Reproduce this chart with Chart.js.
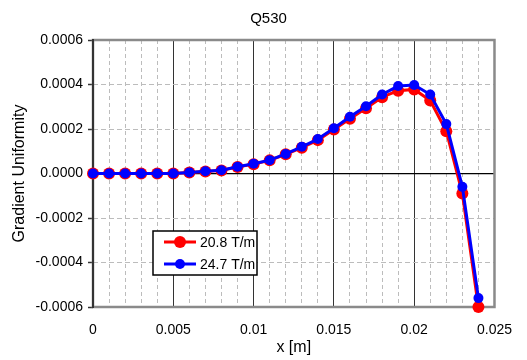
<!DOCTYPE html>
<html>
<head>
<meta charset="utf-8">
<script src="https://cdn.jsdelivr.net/npm/chart.js@4"></script>
<style>
  html, body { margin: 0; padding: 0; background: #fff; }
  #wrap { width: 527px; height: 360px; }
</style>
</head>
<body>
<div id="wrap"><canvas id="gradChart"></canvas></div>
<script>
// position along the magnet [m]
const xPos = [0, 0.001, 0.002, 0.003, 0.004, 0.005, 0.006, 0.007, 0.008, 0.009,
  0.010, 0.011, 0.012, 0.013, 0.014, 0.015, 0.016, 0.017, 0.018, 0.019,
  0.020, 0.021, 0.022, 0.023, 0.024];

// gradient uniformity, 20.8 T/m
const grad208 = [0, 0, 0, 0, 0, 0, 0.000004, 0.000009, 0.000014, 0.000029,
  0.000042, 0.000059, 0.000086, 0.000116, 0.00015, 0.000198, 0.000246, 0.000293, 0.000343, 0.000372,
  0.000378, 0.000328, 0.00019, -0.00009, -0.0006];

// gradient uniformity, 24.7 T/m
const grad247 = [0, 0, 0, 0, 0, 0, 0.000005, 0.00001, 0.000015, 0.00003,
  0.000044, 0.00006, 0.000088, 0.00012, 0.000155, 0.000203, 0.000255, 0.000302, 0.000355, 0.000393,
  0.000398, 0.000355, 0.000222, -0.00006, -0.00056];

const seriesLabels = ['20.8 T/m', '24.7 T/m'];
const seriesColors = ['#ff0000', '#0000ff'];

Chart.defaults.font.family = '"Liberation Sans", Arial, sans-serif';
Chart.defaults.color = '#000';

const isMajorX = v => Math.abs(v / 0.005 - Math.round(v / 0.005)) < 1e-6;

// plot frame: gray box, dark left axis
const framePlugin = {
  id: 'frame',
  beforeDatasetsDraw(chart) {
    const { ctx, chartArea: a } = chart;
    ctx.save();
    ctx.strokeStyle = '#8a8a8a';
    ctx.lineWidth = 2.5;
    ctx.strokeRect(a.left, a.top, a.right - a.left, a.bottom - a.top);
    ctx.strokeStyle = '#333';
    ctx.lineWidth = 2;
    ctx.beginPath();
    ctx.moveTo(a.left, a.top - 1);
    ctx.lineTo(a.left, a.bottom + 1);
    ctx.stroke();
    ctx.restore();
  }
};

// boxed legend inside the plot area
const boxLegend = {
  id: 'boxLegend',
  afterDraw(chart) {
    const { ctx } = chart;
    const bx = 153, by = 231, bw = 104, bh = 44;
    ctx.save();
    ctx.fillStyle = '#fff';
    ctx.fillRect(bx, by, bw, bh);
    ctx.strokeStyle = '#000';
    ctx.lineWidth = 1.5;
    ctx.strokeRect(bx, by, bw, bh);
    chart.data.datasets.forEach((ds, i) => {
      const ry = by + 11 + i * 22;
      ctx.strokeStyle = ds.borderColor;
      ctx.lineWidth = 3;
      ctx.beginPath();
      ctx.moveTo(bx + 11, ry);
      ctx.lineTo(bx + 43, ry);
      ctx.stroke();
      ctx.fillStyle = ds.backgroundColor;
      ctx.beginPath();
      ctx.arc(bx + 27, ry, ds.pointRadius, 0, Math.PI * 2);
      ctx.fill();
      ctx.fillStyle = '#000';
      ctx.font = '14px "Liberation Sans", Arial, sans-serif';
      ctx.textBaseline = 'middle';
      ctx.fillText(ds.label, bx + 47, ry + 1);
    });
    ctx.restore();
  }
};

new Chart(document.getElementById('gradChart'), {
  type: 'scatter',
  data: {
    datasets: [{
      label: seriesLabels[0],
      data: xPos.map((x, i) => ({ x: x, y: grad208[i] })),
      showLine: true,
      borderColor: seriesColors[0],
      backgroundColor: seriesColors[0],
      borderWidth: 3,
      pointRadius: 6,
      pointBorderWidth: 0,
      clip: false,
      order: 1
    }, {
      label: seriesLabels[1],
      data: xPos.map((x, i) => ({ x: x, y: grad247[i] })),
      showLine: true,
      borderColor: seriesColors[1],
      backgroundColor: seriesColors[1],
      borderWidth: 3,
      pointRadius: 5,
      pointBorderWidth: 0,
      clip: false,
      order: 0
    }]
  },
  options: {
    responsive: true,
    maintainAspectRatio: false,
    animation: false,
    layout: { padding: { top: 0, right: 0, bottom: 0, left: 10 } },
    plugins: {
      legend: { display: false },
      tooltip: { enabled: false },
      title: {
        display: true,
        text: 'Q530',
        font: { size: 15, weight: 'normal' },
        color: '#000',
        padding: { top: 10, bottom: 12 }
      }
    },
    scales: {
      x: {
        type: 'linear',
        position: 'bottom',
        min: 0,
        max: 0.025,
        ticks: {
          stepSize: 0.005,
          padding: 15,
          font: { size: 14 },
          callback: v => v === 0 ? '0' : String(parseFloat(v.toFixed(3)))
        },
        grid: { color: '#333', lineWidth: 1, drawTicks: false },
        border: { display: false },
        title: {
          display: true,
          text: 'x [m]',
          font: { size: 16 },
          padding: { top: 0, bottom: 3 }
        },
        afterFit: s => { s.height = 53; }
      },
      xMinor: {
        type: 'linear',
        position: 'bottom',
        min: 0,
        max: 0.025,
        ticks: { stepSize: 0.001, display: false },
        grid: {
          color: ctx => isMajorX(ctx.tick.value) ? 'rgba(0,0,0,0)' : '#bcbcbc',
          lineWidth: 1,
          drawTicks: false
        },
        border: { display: false, dash: [4, 3] },
        afterFit: s => { s.height = 0; }
      },
      y: {
        type: 'linear',
        position: 'left',
        min: -0.0006,
        max: 0.0006,
        ticks: {
          stepSize: 0.0002,
          padding: 5,
          font: { size: 14 },
          callback: v => v.toFixed(4)
        },
        grid: {
          color: ctx => (Math.abs(ctx.tick.value) < 1e-9 || Math.abs(Math.abs(ctx.tick.value) - 0.0006) < 1e-9) ? 'rgba(0,0,0,0)' : '#bcbcbc',
          lineWidth: 1,
          drawTicks: true,
          tickLength: 5,
          tickColor: '#333',
          tickWidth: 1.5,
          tickBorderDash: []
        },
        border: { display: false, dash: [5, 3] },
        title: {
          display: true,
          text: 'Gradient Uniformity',
          font: { size: 16 },
          padding: { top: 0, bottom: 0 }
        },
        afterFit: s => { s.width = 83; }
      },
      yZero: {
        type: 'linear',
        position: 'right',
        min: -0.0006,
        max: 0.0006,
        afterBuildTicks: s => { s.ticks = [{ value: 0 }]; },
        ticks: { display: false },
        grid: { color: '#000', lineWidth: 1.2, drawTicks: false },
        border: { display: false },
        afterFit: s => { s.width = 25; }
      }
    }
  },
  plugins: [framePlugin, boxLegend]
});
</script>
</body>
</html>
